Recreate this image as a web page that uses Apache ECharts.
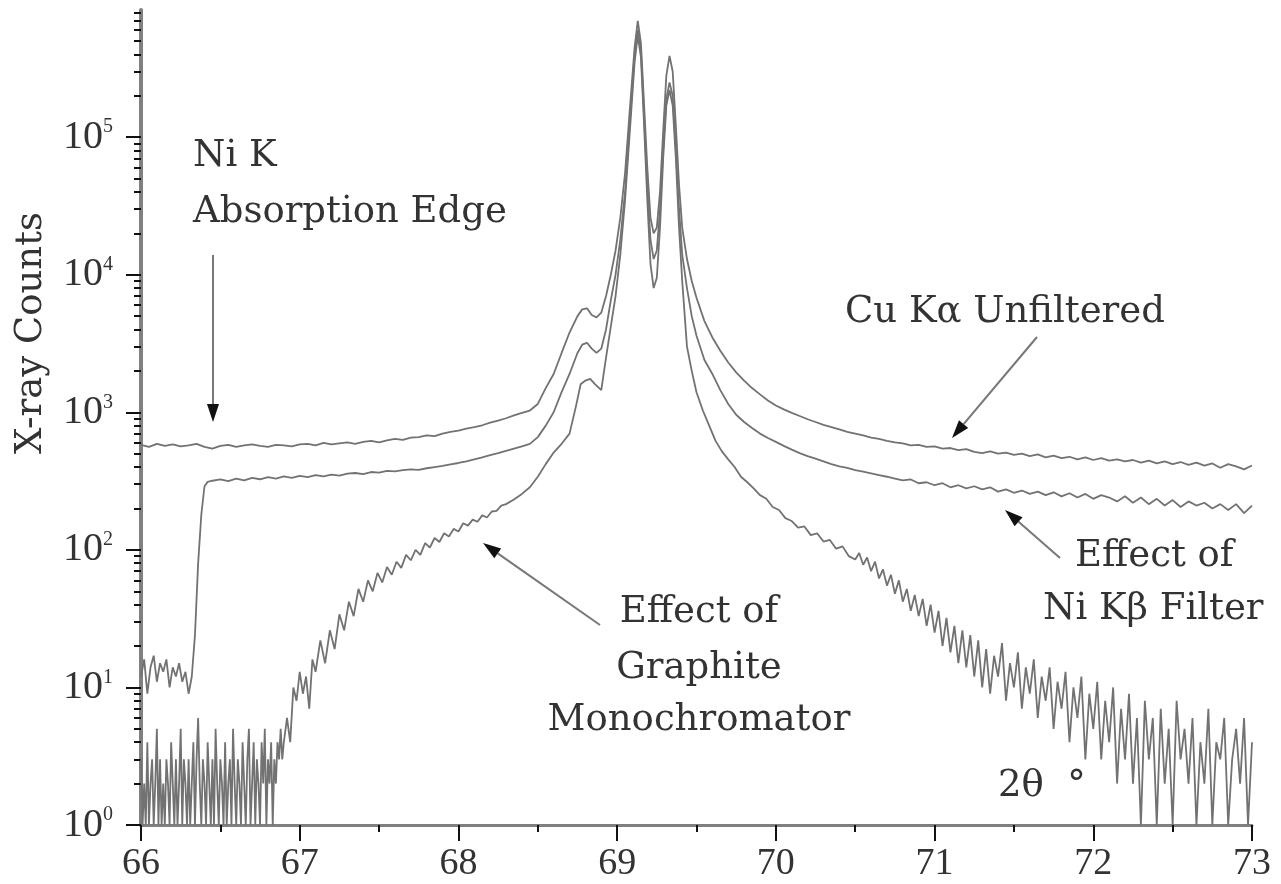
<!DOCTYPE html>
<html>
<head>
<meta charset="utf-8">
<script src="https://cdn.jsdelivr.net/npm/echarts@6/dist/echarts.min.js"></script>
<style>
  html, body { margin: 0; padding: 0; background: #fff; }
  #chart { width: 1281px; height: 884px; }
</style>
</head>
<body>
<div id="chart"></div>
<script>
// 2θ (deg) vs X-ray counts
const cuUnfiltered = [
  [66.00,580],[66.05,560],[66.10,590],[66.15,570],[66.20,585],[66.25,565],[66.30,575],[66.35,590],[66.40,560],[66.45,545],
  [66.50,570],[66.55,580],[66.60,560],[66.65,575],[66.70,585],[66.75,570],[66.80,560],[66.85,580],[66.90,575],[66.95,565],
  [67.00,585],[67.05,590],[67.10,575],[67.15,600],[67.20,585],[67.25,595],[67.30,605],[67.35,590],[67.40,610],[67.45,620],
  [67.50,605],[67.55,625],[67.60,640],[67.65,630],[67.70,655],[67.75,660],[67.80,680],[67.85,670],[67.90,700],[67.95,720],
  [68.00,735],[68.05,760],[68.10,780],[68.15,805],[68.20,840],[68.25,870],[68.30,905],[68.35,950],[68.40,990],[68.45,1030],
  [68.50,1150],[68.55,1500],[68.60,1900],[68.65,2700],[68.70,3800],[68.75,5000],[68.78,5600],[68.81,5700],[68.84,5100],[68.87,4900],
  [68.90,5300],[68.93,7000],[68.96,10000],[68.99,15000],[69.02,26000],[69.05,55000],[69.08,160000],[69.11,450000],[69.13,700000],[69.15,480000],
  [69.17,170000],[69.19,60000],[69.21,26000],[69.23,20000],[69.25,22000],[69.27,40000],[69.29,110000],[69.31,280000],[69.33,390000],[69.35,300000],
  [69.37,120000],[69.39,45000],[69.41,22000],[69.44,13000],[69.47,9000],[69.50,6800],[69.55,4600],[69.60,3500],[69.65,2800],[69.70,2300],
  [69.75,1950],[69.80,1700],[69.85,1500],[69.90,1350],[69.95,1220],[70.00,1120],[70.05,1050],[70.10,990],[70.15,940],[70.20,890],
  [70.25,850],[70.30,810],[70.35,780],[70.40,750],[70.45,720],[70.50,700],[70.55,680],[70.60,655],[70.65,640],[70.70,620],
  [70.75,605],[70.80,595],[70.85,575],[70.90,580],[70.95,560],[71.00,565],[71.05,545],[71.10,550],[71.15,530],[71.20,540],
  [71.25,515],[71.30,505],[71.35,520],[71.40,500],[71.45,510],[71.50,490],[71.55,500],[71.60,480],[71.65,495],[71.70,470],
  [71.75,485],[71.80,465],[71.85,475],[71.90,455],[71.95,470],[72.00,450],[72.05,465],[72.10,445],[72.15,455],[72.20,440],
  [72.25,450],[72.30,430],[72.35,445],[72.40,425],[72.45,440],[72.50,420],[72.55,435],[72.60,415],[72.65,430],[72.70,410],
  [72.75,425],[72.80,395],[72.85,420],[72.90,405],[72.95,385],[73.00,410]
];

const niFiltered = [
  [66.00,12],[66.02,16],[66.04,9],[66.06,14],[66.08,17],[66.10,11],[66.12,15],[66.14,13],[66.16,16],[66.18,10],
  [66.20,14],[66.22,12],[66.24,15],[66.26,11],[66.28,13],[66.30,9],[66.32,12],[66.34,24],[66.36,80],[66.38,180],
  [66.40,290],[66.42,312],[66.45,318],[66.50,325],[66.55,316],[66.60,330],[66.65,320],[66.70,334],[66.75,326],[66.80,338],
  [66.85,330],[66.90,342],[66.95,334],[67.00,345],[67.05,338],[67.10,350],[67.15,342],[67.20,352],[67.25,346],[67.30,358],
  [67.35,362],[67.40,355],[67.45,368],[67.50,364],[67.55,375],[67.60,372],[67.65,380],[67.70,385],[67.75,382],[67.80,392],
  [67.85,400],[67.90,408],[67.95,418],[68.00,428],[68.05,440],[68.10,455],[68.15,470],[68.20,488],[68.25,505],[68.30,525],
  [68.35,545],[68.40,565],[68.45,590],[68.50,660],[68.55,800],[68.60,1000],[68.65,1400],[68.70,1900],[68.75,2700],[68.78,3100],
  [68.81,3200],[68.84,2900],[68.87,2700],[68.90,2900],[68.93,4000],[68.96,6500],[68.99,10000],[69.02,18000],[69.05,40000],[69.08,130000],
  [69.11,400000],[69.13,600000],[69.15,420000],[69.17,140000],[69.19,45000],[69.21,18000],[69.23,13000],[69.25,15000],[69.27,30000],[69.29,80000],
  [69.31,190000],[69.33,250000],[69.35,200000],[69.37,80000],[69.39,30000],[69.41,14000],[69.44,8000],[69.47,5000],[69.50,3600],[69.55,2400],
  [69.60,1900],[69.65,1450],[69.70,1150],[69.75,960],[69.80,850],[69.85,770],[69.90,700],[69.95,650],[70.00,610],[70.05,570],
  [70.10,535],[70.15,505],[70.20,480],[70.25,460],[70.30,440],[70.35,420],[70.40,405],[70.45,395],[70.50,380],[70.55,370],
  [70.60,360],[70.65,350],[70.70,340],[70.75,330],[70.80,320],[70.85,325],[70.90,305],[70.95,310],[71.00,295],[71.05,305],
  [71.10,285],[71.15,295],[71.20,280],[71.25,290],[71.30,275],[71.35,285],[71.40,265],[71.45,275],[71.50,260],[71.55,270],
  [71.60,255],[71.65,265],[71.70,250],[71.75,262],[71.80,245],[71.85,258],[71.90,240],[71.95,255],[72.00,235],[72.05,250],
  [72.10,240],[72.15,225],[72.20,245],[72.25,220],[72.30,240],[72.35,215],[72.40,235],[72.45,210],[72.50,230],[72.55,205],
  [72.60,225],[72.65,210],[72.70,220],[72.75,200],[72.80,215],[72.85,195],[72.90,215],[72.95,185],[73.00,210]
];

const graphiteMono = [
  [66.00,3],[66.01,1],[66.02,2],[66.03,1],[66.04,4],[66.05,1],[66.06,2],[66.07,3],[66.08,1],[66.09,2],
  [66.10,5],[66.11,1],[66.12,3],[66.13,1],[66.14,2],[66.15,1],[66.16,3],[66.17,2],[66.18,1],[66.19,4],
  [66.20,2],[66.21,1],[66.22,3],[66.23,1],[66.24,2],[66.25,5],[66.26,1],[66.27,3],[66.28,2],[66.29,1],
  [66.30,3],[66.31,1],[66.32,2],[66.33,4],[66.34,1],[66.35,3],[66.36,6],[66.37,2],[66.38,1],[66.39,3],
  [66.40,2],[66.41,1],[66.42,4],[66.43,2],[66.44,1],[66.45,3],[66.46,1],[66.47,5],[66.48,2],[66.49,1],
  [66.50,3],[66.51,2],[66.52,1],[66.53,4],[66.54,1],[66.55,2],[66.56,3],[66.57,1],[66.58,5],[66.59,2],
  [66.60,1],[66.61,3],[66.62,2],[66.63,1],[66.64,4],[66.65,2],[66.66,1],[66.67,3],[66.68,5],[66.69,1],
  [66.70,2],[66.71,4],[66.72,1],[66.73,3],[66.74,2],[66.75,1],[66.76,4],[66.77,2],[66.78,5],[66.79,1],
  [66.80,3],[66.81,2],[66.82,4],[66.83,1],[66.84,3],[66.85,2],[66.86,4],[66.87,3],[66.88,5],[66.89,3],
  [66.90,4],[66.92,6],[66.94,4],[66.96,10],[66.98,8],
  [67.00,13],[67.02,9],[67.04,12],[67.06,7],[67.08,16],[67.10,13],[67.13,22],[67.16,15],[67.19,26],[67.22,19],
  [67.25,34],[67.28,26],[67.31,42],[67.34,33],[67.37,52],[67.40,42],[67.43,60],[67.46,50],[67.49,68],[67.52,58],
  [67.55,75],[67.58,66],[67.61,82],[67.64,74],[67.67,92],[67.70,84],[67.73,100],[67.76,92],[67.79,112],[67.82,104],
  [67.85,122],[67.88,114],[67.91,132],[67.94,125],[67.97,142],[68.00,136],[68.03,156],[68.06,150],[68.09,166],[68.12,160],
  [68.15,178],[68.18,172],[68.21,190],[68.24,192],[68.27,210],[68.30,215],[68.35,232],[68.40,255],[68.45,285],[68.50,340],
  [68.55,420],[68.60,510],[68.65,590],[68.70,700],[68.74,1100],[68.77,1600],[68.80,1700],[68.83,1750],[68.86,1600],[68.90,1450],
  [68.93,2500],[68.96,4200],[68.99,7000],[69.02,14000],[69.05,35000],[69.08,110000],[69.11,350000],[69.13,550000],[69.15,380000],[69.17,120000],
  [69.19,35000],[69.21,12000],[69.23,8000],[69.25,9500],[69.27,22000],[69.29,70000],[69.31,170000],[69.33,220000],[69.35,170000],[69.37,70000],
  [69.39,22000],[69.41,9000],[69.44,3000],[69.47,2000],[69.50,1400],[69.54,1030],[69.58,800],[69.62,620],[69.66,520],[69.70,455],
  [69.74,400],[69.78,340],[69.82,310],[69.86,280],[69.90,250],[69.94,235],[69.98,205],[70.02,195],[70.06,170],[70.10,162],
  [70.14,145],[70.18,148],[70.22,128],[70.26,132],[70.30,115],[70.34,118],[70.38,102],[70.42,106],[70.46,90],[70.500,85],
  [70.525,95],[70.550,78],[70.575,88],[70.600,70],[70.625,82],[70.650,62],[70.675,72],[70.700,55],[70.725,66],[70.750,48],
  [70.775,60],[70.800,42],[70.825,52],[70.850,36],[70.875,47],[70.900,33],[70.925,44],[70.950,28],[70.975,40],[71.000,25],
  [71.025,36],[71.050,20],[71.075,32],[71.100,18],[71.125,28],[71.150,15],[71.175,26],[71.200,14],[71.225,24],[71.250,12],
  [71.275,22],[71.300,10],[71.325,19],[71.350,9],[71.375,17],[71.400,12],[71.425,21],[71.450,8],[71.475,15],[71.500,10],
  [71.525,18],[71.550,7],[71.575,14],[71.600,9],[71.625,16],[71.650,6],[71.675,12],[71.700,8],[71.725,14],[71.750,5],
  [71.775,11],[71.800,7],[71.825,13],[71.850,4],[71.875,10],[71.900,6],[71.925,12],[71.950,3],[71.975,9],[72.000,5],
  [72.025,11],[72.050,3],[72.075,8],[72.100,4],[72.125,10],[72.150,2],[72.175,7],[72.200,3],[72.225,9],[72.250,2],
  [72.275,6],[72.300,1],[72.325,8],[72.350,3],[72.375,6],[72.400,1],[72.425,7],[72.450,2],[72.475,5],[72.500,1],
  [72.525,8],[72.550,3],[72.575,5],[72.600,2],[72.625,6],[72.650,1],[72.675,4],[72.700,2],[72.725,7],[72.750,1],
  [72.775,4],[72.800,3],[72.825,6],[72.850,1],[72.875,3],[72.900,5],[72.925,2],[72.950,6],[72.975,1],[73.000,4]
];

// y axis: labelled decades and the 2..9 minor ticks
const yDecades = [1, 10, 100, 1000, 10000, 100000];
const yMinorTicks = [
  2, 3, 4, 5, 6, 7, 8, 9,
  20, 30, 40, 50, 60, 70, 80, 90,
  200, 300, 400, 500, 600, 700, 800, 900,
  2000, 3000, 4000, 5000, 6000, 7000, 8000, 9000,
  20000, 30000, 40000, 50000, 60000, 70000, 80000, 90000,
  200000, 300000, 400000, 500000, 600000, 700000, 800000
];

const serif = '"Liberation Serif", "Times New Roman", serif';
const annoFont = '"DejaVu Serif", serif';
const lineGray = '#727272';
const textColor = '#333';

// annotation arrow: shaft + filled head, in pixels
function arrow(x1, y1, x2, y2) {
  const a = Math.atan2(y2 - y1, x2 - x1);
  const len = 18, half = 6;
  const bx = x2 - len * Math.cos(a), by = y2 - len * Math.sin(a);
  return [
    { type: 'line', shape: { x1: x1, y1: y1, x2: bx, y2: by }, style: { stroke: '#777', lineWidth: 2 } },
    { type: 'polygon', shape: { points: [[x2, y2],
        [bx + half * Math.sin(a), by - half * Math.cos(a)],
        [bx - half * Math.sin(a), by + half * Math.cos(a)]] },
      style: { fill: '#111' } }
  ];
}

function label(text, x, y, align) {
  return {
    type: 'text', x: x, y: y,
    style: { text: text, font: '37px ' + annoFont, fill: textColor, align: align || 'left', verticalAlign: 'middle' }
  };
}

const chart = echarts.init(document.getElementById('chart'), null, { renderer: 'canvas' });

const option = {
  animation: false,
  backgroundColor: '#fff',
  grid: { left: 141, right: 29, top: 10, bottom: 59, outerBoundsMode: 'none' },
  xAxis: {
    type: 'value',
    min: 66,
    max: 73,
    interval: 1,
    splitLine: { show: false },
    axisLine: { lineStyle: { color: '#808080', width: 3 } },
    axisTick: { length: 16, lineStyle: { color: '#111', width: 2 } },
    minorTick: { show: true, splitNumber: 2, length: 7, lineStyle: { color: '#111', width: 2 } },
    axisLabel: { margin: 20, fontFamily: serif, fontSize: 38, color: textColor }
  },
  yAxis: [
    {
      type: 'log',
      logBase: 10,
      min: 1,
      max: 840000,
      position: 'left',
      splitLine: { show: false },
      axisLine: { show: true, lineStyle: { color: '#808080', width: 4 } },
      axisTick: { length: 15, customValues: yDecades, lineStyle: { color: '#111', width: 2 } },
      axisLabel: {
        margin: 28,
        customValues: yDecades,
        formatter: function (v) {
          return '{b|10}{s|' + Math.round(Math.log10(v)) + '}';
        },
        rich: {
          b: { fontFamily: serif, fontSize: 40, lineHeight: 40, color: textColor },
          s: { fontFamily: serif, fontSize: 20, lineHeight: 20, verticalAlign: 'top', color: textColor }
        }
      }
    },
    {
      type: 'log',
      logBase: 10,
      min: 1,
      max: 840000,
      position: 'left',
      splitLine: { show: false },
      axisLine: { show: false },
      axisLabel: { show: false },
      axisTick: { length: 7, customValues: yMinorTicks, lineStyle: { color: '#111', width: 2 } }
    }
  ],
  series: [
    { name: 'Effect of Graphite Monochromator', type: 'line', data: graphiteMono, symbol: 'none',
      lineStyle: { color: lineGray, width: 1.8 } },
    { name: 'Effect of Ni Kβ Filter', type: 'line', data: niFiltered, symbol: 'none',
      lineStyle: { color: lineGray, width: 1.8 } },
    { name: 'Cu Kα Unfiltered', type: 'line', data: cuUnfiltered, symbol: 'none',
      lineStyle: { color: lineGray, width: 1.8 } }
  ],
  graphic: [
    {
      type: 'text', x: 31, y: 333, rotation: Math.PI / 2,
      style: { text: 'X-ray Counts', font: '37px ' + annoFont, fill: textColor, align: 'center', verticalAlign: 'middle' }
    },
    label('Ni K', 193, 156),
    label('Absorption Edge', 193, 212),
    label('Cu Kα Unfiltered', 845, 312),
    label('Effect of', 1075, 556),
    label('Ni Kβ Filter', 1043, 609),
    label('Effect of', 699, 612, 'center'),
    label('Graphite', 699, 668, 'center'),
    label('Monochromator', 699, 720, 'center'),
    label('2θ  °', 998, 786)
  ]
    .concat(arrow(213, 255, 213, 422))
    .concat(arrow(1037, 337, 952, 438))
    .concat(arrow(1060, 558, 1005, 510))
    .concat(arrow(600, 625, 483, 543))
};

chart.setOption(option);
</script>
</body>
</html>
